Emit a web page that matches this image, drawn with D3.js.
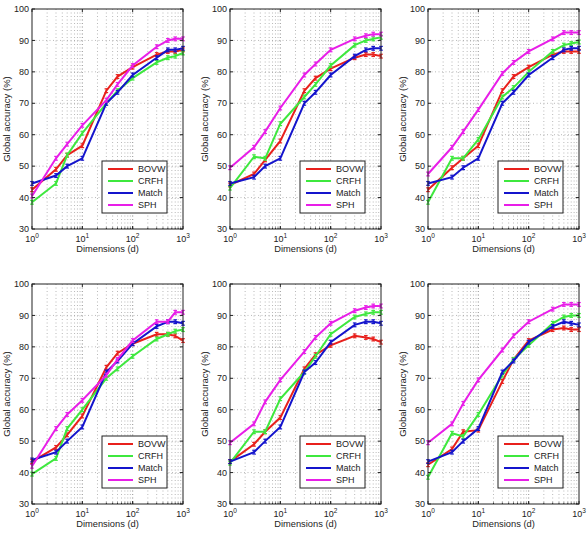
<!DOCTYPE html>
<html>
<head>
<meta charset="utf-8">
<script src="https://cdn.jsdelivr.net/npm/d3@7"></script>
<style>
  body { margin: 0; background: #fff; }
  text { font-family: "Liberation Sans", Arial, sans-serif; fill: #222; }
</style>
</head>
<body>
<div id="chart"></div>
<script>
(function () {

  // Data
  const dims = [1, 3, 5, 10, 30, 50, 100, 300, 500, 700, 1000]
  const methods = ["BOVW", "CRFH", "Match", "SPH"]

  const panel1 = {
    BOVW:  [42.5, 49, 53.5, 56.5, 74, 78.5, 81.5, 85.5, 86.5, 86.5, 87],
    CRFH:  [38.5, 44.5, 53.5, 60.5, 70, 74, 78, 83, 84.5, 85, 86],
    Match: [44.5, 47, 50, 52.5, 70, 73.5, 79, 84.5, 87, 87, 87.5],
    SPH:   [40.5, 52.5, 57, 63, 71, 76, 82, 88, 90, 90.5, 90.5]
  }
  const panel2 = {
    BOVW:  [44, 47.5, 52, 58, 74, 78, 81, 84.5, 85.5, 85.5, 85],
    CRFH:  [43, 53, 52.5, 63.5, 72, 76, 82, 88.5, 90, 90.5, 91],
    Match: [44.5, 46.5, 50, 52.5, 70, 73.5, 79, 85, 87, 87.5, 87.5],
    SPH:   [49.5, 56, 61, 68.5, 79, 82.5, 87, 90.5, 91.5, 92, 92]
  }
  const panel3 = {
    BOVW:  [42.5, 49.5, 52.5, 56.5, 74, 78.5, 81.5, 85.5, 86.5, 86.5, 86.5],
    CRFH:  [38.5, 52.5, 52.5, 58.5, 72, 75, 80, 86.5, 88.5, 89, 89.5],
    Match: [44.5, 46.5, 49.5, 52.5, 70, 73.5, 79, 84.5, 87, 87.5, 87.5],
    SPH:   [47.5, 56, 61, 68, 79.5, 83, 86.5, 90.5, 92.5, 92.5, 92.5]
  }
  const panel4 = {
    BOVW:  [43.5, 48, 52, 58, 73.5, 78, 81, 84, 84, 83.5, 82],
    CRFH:  [39.5, 44.5, 54, 60, 70, 73, 77, 82.5, 84, 85, 85.5],
    Match: [44, 46.5, 50, 54.5, 72, 75.5, 81, 86.5, 88, 88, 87.5],
    SPH:   [42, 54, 58.5, 63, 71, 76, 82, 88, 88, 91, 91]
  }
  const panel5 = {
    BOVW:  [43.5, 49, 53, 57.5, 73, 77.5, 80.5, 83.5, 83, 82.5, 81.5],
    CRFH:  [43, 53, 53, 63.5, 72, 77, 84, 89.5, 90.5, 91, 91],
    Match: [43.5, 46.5, 50, 54.5, 72, 75, 81.5, 87, 88, 88, 87.5],
    SPH:   [49.5, 55.5, 62.5, 69.5, 78.5, 83, 87.5, 91.5, 92.5, 93, 93]
  }
  const panel6 = {
    BOVW:  [42.5, 47.5, 53, 53.5, 69, 76, 82, 85.5, 86, 85.5, 85.5],
    CRFH:  [38.5, 52.5, 51.5, 58.5, 71, 76, 80.5, 87.5, 89.5, 90, 90],
    Match: [43.5, 46.5, 50, 54, 72, 75.5, 81.5, 86.5, 88, 87.5, 87],
    SPH:   [49.5, 55.5, 62, 69.5, 79, 83.5, 88, 92, 93.5, 93.5, 93.5]
  }
  const panels = [panel1, panel2, panel3, panel4, panel5, panel6]

  const yTicks = [30, 40, 50, 60, 70, 80, 90, 100]
  const xTicks = [1, 10, 100, 1000]

  // Layout
  const width = 151
  const height = 220
  const lefts = [32, 230, 428]
  const tops = [9, 284]

  const colorScale = d3.scaleOrdinal()
    .domain(methods)
    .range(["#e8201c", "#3ee83e", "#1414cc", "#e81ee8"])

  const xScale = d3.scaleLog().domain([1, 1000]).range([0, width])
  const yScale = d3.scaleLinear().domain([30, 100]).range([height, 0])

  // minor log grid positions
  const minorX = []
  for (let dec = 1; dec < 1000; dec *= 10) {
    for (let k = 1; k <= 10; k++) minorX.push(dec * k)
  }

  const svg = d3.select("#chart").append("svg")
    .attr("width", 588)
    .attr("height", 533)

  panels.forEach((panel, i) => {
    const g = svg.append("g")
      .attr("transform", "translate(" + lefts[i % 3] + "," + tops[Math.floor(i / 3)] + ")")

    // Grid
    g.selectAll(".vgrid")
      .data(minorX.filter(d => d > 1 && d < 1000))
      .join("line")
      .attr("x1", d => xScale(d)).attr("x2", d => xScale(d))
      .attr("y1", 0).attr("y2", height)
      .attr("stroke", "#8a8a8a")
      .attr("stroke-width", 0.6)
      .attr("stroke-dasharray", "1,2.5")

    g.selectAll(".hgrid")
      .data(yTicks.filter(d => d > 30 && d < 100))
      .join("line")
      .attr("x1", 0).attr("x2", width)
      .attr("y1", d => yScale(d)).attr("y2", d => yScale(d))
      .attr("stroke", "#8a8a8a")
      .attr("stroke-width", 0.6)
      .attr("stroke-dasharray", "1,2.5")

    // Lines
    const line = d3.line()
      .x((d, j) => xScale(dims[j]))
      .y(d => yScale(d))

    methods.forEach(m => {
      g.append("path")
        .datum(panel[m])
        .attr("fill", "none")
        .attr("stroke", colorScale(m))
        .attr("stroke-width", 2)
        .attr("d", line)

      // small error-bar markers
      const eb = g.append("g").attr("stroke", colorScale(m)).attr("stroke-width", 1.2)
      panel[m].forEach((v, j) => {
        const cx = xScale(dims[j])
        const y0 = yScale(v - 0.6), y1 = yScale(v + 0.6)
        eb.append("line").attr("x1", cx).attr("x2", cx).attr("y1", y0).attr("y2", y1)
        eb.append("line").attr("x1", cx - 1.8).attr("x2", cx + 1.8).attr("y1", y0).attr("y2", y0)
        eb.append("line").attr("x1", cx - 1.8).attr("x2", cx + 1.8).attr("y1", y1).attr("y2", y1)
      })
    })

    // Frame
    g.append("rect")
      .attr("width", width).attr("height", height)
      .attr("fill", "none")
      .attr("stroke", "#222")
      .attr("stroke-width", 1)

    // Y ticks
    const yt = g.selectAll(".yt").data(yTicks).join("g")
    yt.append("line")
      .attr("x1", 0).attr("x2", 3)
      .attr("y1", d => yScale(d)).attr("y2", d => yScale(d))
      .attr("stroke", "#222")
    yt.append("line")
      .attr("x1", width - 3).attr("x2", width)
      .attr("y1", d => yScale(d)).attr("y2", d => yScale(d))
      .attr("stroke", "#222")
    yt.append("text")
      .attr("x", -3)
      .attr("y", d => yScale(d))
      .attr("dy", "0.35em")
      .attr("text-anchor", "end")
      .attr("font-size", 9)
      .text(d => d)

    // X ticks
    g.selectAll(".xminor")
      .data(minorX.filter(d => d > 1 && d < 1000))
      .join("line")
      .attr("x1", d => xScale(d)).attr("x2", d => xScale(d))
      .attr("y1", height).attr("y2", height - 1.5)
      .attr("stroke", "#222")
    const xt = g.selectAll(".xt").data(xTicks).join("g")
    xt.append("line")
      .attr("x1", d => xScale(d)).attr("x2", d => xScale(d))
      .attr("y1", height).attr("y2", height - 3)
      .attr("stroke", "#222")
    xt.append("line")
      .attr("x1", d => xScale(d)).attr("x2", d => xScale(d))
      .attr("y1", 0).attr("y2", 3)
      .attr("stroke", "#222")
    const xl = xt.append("text")
      .attr("x", d => xScale(d))
      .attr("y", height + 13)
      .attr("text-anchor", "middle")
      .attr("font-size", 9)
    xl.append("tspan").text("10")
    xl.append("tspan")
      .attr("dy", -4)
      .attr("font-size", 6.5)
      .text(d => Math.round(Math.log10(d)))

    // Axis labels
    g.append("text")
      .attr("x", width / 2)
      .attr("y", height + 23)
      .attr("text-anchor", "middle")
      .attr("font-size", 9.3)
      .text("Dimensions (d)")

    g.append("text")
      .attr("transform", "translate(-22," + (height / 2) + ") rotate(-90)")
      .attr("text-anchor", "middle")
      .attr("font-size", 9.5)
      .text("Global accuracy (%)")

    // Legend
    const lw = 65, lh = 52
    const legend = g.append("g")
      .attr("transform", "translate(" + (width - 16 - lw) + "," + (height - 16 - lh) + ")")
    legend.append("rect")
      .attr("width", lw).attr("height", lh)
      .attr("fill", "#fff")
      .attr("stroke", "#222")
      .attr("stroke-width", 1)
    const items = legend.selectAll(".item").data(methods).join("g")
      .attr("transform", (d, j) => "translate(0," + (8 + j * 12) + ")")
    items.append("line")
      .attr("x1", 6).attr("x2", 31)
      .attr("stroke", d => colorScale(d))
      .attr("stroke-width", 2)
    items.append("text")
      .attr("x", 36)
      .attr("dy", "0.35em")
      .attr("font-size", 9)
      .text(d => d)
  })

})();
</script>
</body>
</html>
